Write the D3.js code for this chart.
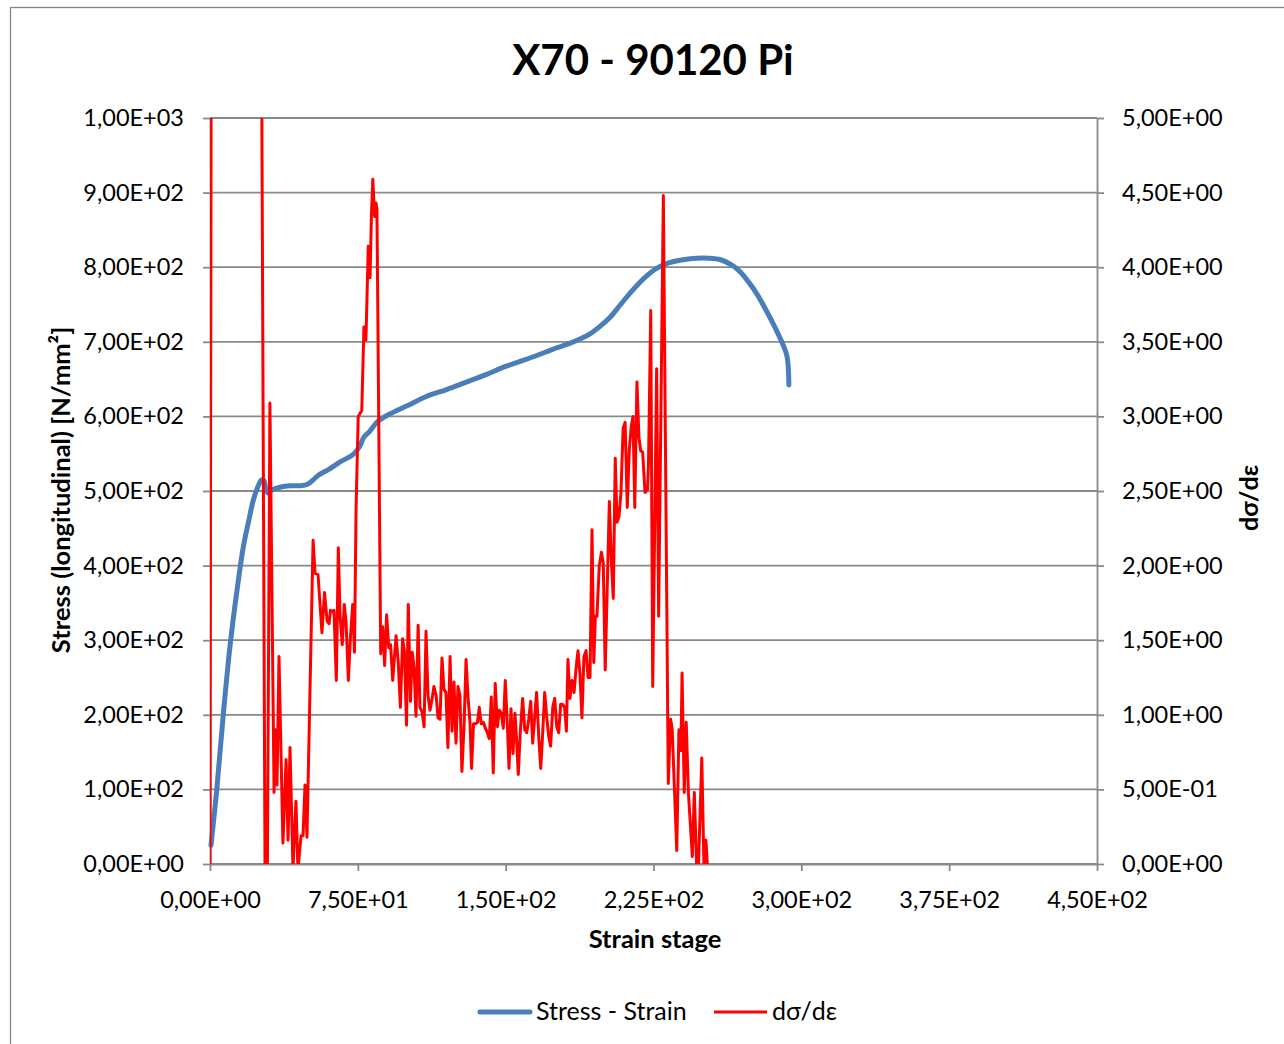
<!DOCTYPE html>
<html>
<head>
<meta charset="utf-8">
<script src="https://cdn.jsdelivr.net/npm/d3@7"></script>
<style>
  html, body { margin: 0; padding: 0; background: #fff; }
  svg { display: block; }
  text { font-family: Lato, "Open Sans", sans-serif; fill: #000; }
</style>
</head>
<body>
<script>
// ---------------- DATA ----------------
const chartTitle = "X70 - 90120 Pi";
const xTitle = "Strain stage";
const yLeftTitle = "Stress (longitudinal) [N/mm²]";
const yRightTitle = "dσ/dε";
const seriesNames = ["Stress - Strain", "dσ/dε"];

const strainTicks = [0, 75, 150, 225, 300, 375, 450];
const stressTicks = [0, 100, 200, 300, 400, 500, 600, 700, 800, 900, 1000];
const slopeTicks = [0, 0.5, 1, 1.5, 2, 2.5, 3, 3.5, 4, 4.5, 5];

// Stress - Strain curve (left axis)
const stressStrain = [0.5, 3.4, 6.8, 10.1, 13.5, 16.9, 19.4, 22, 24.5, 26.2, 27.4, 28.4, 29.6, 31.3, 35.5, 40.6, 45.7, 49.5, 52.4, 55, 60.9, 66, 72.7, 76, 78, 81, 85, 91, 100.6, 110, 120, 130, 140, 150, 160, 170, 176, 182.5, 188, 193, 198, 203, 208, 214, 221, 227, 233, 240, 247, 253, 259, 264, 268.5, 273, 277.5, 282, 286.7, 290.2, 292.7, 293.7];
const stressValues = [25, 99, 202, 291, 363, 425, 457, 488, 507, 515, 514, 501, 497, 501, 505, 507, 507, 509, 515, 521, 530, 539, 549, 560, 572, 580, 593, 603, 615, 627, 636, 646, 656, 667, 676, 686, 692, 698, 704, 711, 721, 733, 749, 768, 787, 799, 806, 810, 812, 812, 810, 804, 795, 781, 764, 743, 719, 699, 681, 642];

// dσ/dε curve (right axis)
const slopeStrain = [0, 1, 26, 28, 29, 30.4, 32.5, 33.5, 34, 35, 37, 38.6, 39.6, 40.6, 42.1, 43.6, 44.6, 46.2, 47.2, 48.2, 49.2, 52.3, 53.3, 54.8, 56.8, 58.1, 59.4, 60.4, 61.1, 62.4, 62.9, 64.1, 65.1, 66, 67.1, 68.1, 69, 70.2, 71.2, 72.4, 73.3, 74.1, 75.2, 77, 78.1, 79.1, 80.3, 81.2, 81.9, 82.6, 83.5, 84.2, 84.7, 86.6, 87.6, 88.6, 89.6, 90.7, 91.6, 92.7, 94.4, 95.5, 96.6, 97.7, 98.6, 99.7, 100.6, 101.7, 102.6, 103.5, 104.5, 105.6, 106.5, 107.6, 108.6, 109.6, 110.6, 111.6, 112.6, 113.6, 114.7, 115.7, 116.7, 117.7, 118.7, 119.7, 120.7, 121.8, 122.8, 123.8, 124.8, 125.8, 126.8, 127.8, 128.9, 129.9, 130.9, 131.9, 132.7, 133.7, 134.7, 135.7, 136.6, 137.6, 138.7, 139.7, 140.7, 141.7, 142.7, 143.7, 144.7, 145.8, 146.8, 147.8, 148.8, 149.8, 150.9, 151.7, 152.7, 153.7, 154.7, 155.5, 156.4, 157.4, 158.6, 159.7, 160.7, 161.7, 162.7, 163.7, 164.7, 165.7, 166.8, 167.8, 168.8, 169.8, 170.8, 171.8, 172.8, 173.9, 174.9, 175.9, 176.9, 177.9, 178.9, 179.9, 180.8, 181.6, 182.6, 183.7, 184.7, 185.7, 186.7, 187.7, 188.7, 189.7, 190.8, 191.8, 192.8, 193.8, 194.7, 195.5, 196.3, 197.5, 198.6, 199.5, 200.5, 202.6, 203.6, 204.6, 205.6, 206.5, 207.5, 208.5, 209.6, 210.6, 211.7, 212.7, 213.7, 214.6, 215.5, 216.6, 217.6, 218.5, 219.5, 220.7, 222, 222.5, 223.6, 224.6, 226.6, 227.6, 230, 232.5, 233.7, 234.5, 236.8, 237.9, 238.9, 239.5, 240.6, 241.6, 242.7, 244.7, 245.7, 246.9, 247.8, 249.5, 250.6, 251.6, 252.4];
const slopeValues = [0, 9, 6, -0.3, -0.3, 3.09, 0.48, 0.90, 0.53, 1.39, 0.14, 0.70, 0.16, 0.78, -0.03, 0.42, -0.04, 0.19, 0.19, 0.53, 0.18, 2.17, 1.95, 1.94, 1.55, 1.82, 1.63, 1.61, 1.70, 1.69, 1.70, 1.23, 2.12, 1.66, 1.47, 1.74, 1.63, 1.23, 1.51, 1.74, 1.42, 2.38, 3.00, 3.04, 3.60, 3.51, 4.14, 3.93, 4.35, 4.59, 4.34, 4.43, 4.39, 1.41, 1.59, 1.33, 1.67, 1.45, 1.47, 1.23, 1.53, 1.35, 1.05, 1.51, 1.43, 0.93, 1.74, 1.09, 1.42, 1.32, 0.99, 1.60, 1.05, 1.02, 0.92, 1.56, 1.13, 1.03, 1.10, 1.19, 1.13, 0.98, 0.97, 1.38, 1.17, 1.15, 0.78, 1.39, 0.89, 1.22, 0.81, 1.19, 1.13, 0.62, 0.93, 1.37, 1.12, 0.95, 0.64, 0.94, 0.94, 0.95, 1.05, 0.94, 0.95, 0.91, 0.88, 0.84, 1.12, 0.61, 1.21, 0.92, 1.03, 1.01, 0.91, 1.23, 0.92, 0.64, 1.04, 0.74, 1.01, 0.84, 0.60, 0.88, 1.11, 0.90, 0.88, 0.97, 1.09, 0.81, 0.98, 1.15, 0.85, 0.64, 0.88, 1.15, 0.99, 0.86, 0.79, 1.05, 1.11, 0.92, 0.88, 1.07, 1.07, 1.05, 0.89, 1.37, 1.11, 1.23, 1.15, 1.31, 1.43, 1.27, 0.98, 1.39, 1.43, 1.25, 1.25, 2.24, 1.35, 1.66, 1.66, 2.00, 2.09, 2.02, 1.30, 2.43, 2.04, 1.78, 2.72, 2.29, 2.33, 2.49, 2.92, 2.96, 2.39, 2.77, 2.93, 3.00, 2.39, 3.23, 2.86, 2.77, 2.76, 2.49, 2.51, 2.71, 3.71, 1.19, 3.32, 1.66, 4.48, 0.54, 0.97, 0.90, 0.09, 0.90, 0.76, 1.28, 0.48, 0.95, 0.48, 0.05, 0.48, -0.02, -0.02, 0.71, -0.02, 0.16, -0.02];

// ---------------- CHART ----------------
const W = 1284, H = 1044;
const plot = { left: 210, right: 1097, top: 118, bottom: 864 };
const gridColor = "#898989";
const blue = "#4A7EBB", red = "#FF0000";

const fmt = v => {
  const [m, e] = v.toExponential(2).split("e");
  const n = +e;
  return m.replace(".", ",") + "E" + (n < 0 ? "-" : "+") + String(Math.abs(n)).padStart(2, "0");
};

const x = d3.scaleLinear().domain([0, 450]).range([plot.left, plot.right]);
const yL = d3.scaleLinear().domain([0, 1000]).range([plot.bottom, plot.top]);
const yR = d3.scaleLinear().domain([0, 5]).range([plot.bottom, plot.top]);

const svg = d3.select("body").append("svg").attr("width", W).attr("height", H);
svg.append("rect").attr("width", W).attr("height", H).attr("fill", "#fff");

// chart frame
svg.append("rect").attr("x", 10.5).attr("y", 7.5).attr("width", W + 20).attr("height", H + 20)
  .attr("fill", "none").attr("stroke", "#868686").attr("stroke-width", 1.3);

// clip
svg.append("clipPath").attr("id", "clip").append("rect")
  .attr("x", plot.left).attr("y", plot.top)
  .attr("width", plot.right - plot.left).attr("height", plot.bottom - plot.top);

// gridlines
svg.append("g").selectAll("line").data(stressTicks).join("line")
  .attr("x1", plot.left).attr("x2", plot.right)
  .attr("y1", d => yL(d)).attr("y2", d => yL(d))
  .attr("stroke", gridColor).attr("stroke-width", 1.8);

function styleAxis(g) {
  g.select(".domain").attr("stroke", gridColor).attr("stroke-width", 1.8);
  g.selectAll(".tick line").attr("stroke", gridColor).attr("stroke-width", 1.8);
  g.selectAll(".tick text").attr("font-family", "Lato, sans-serif").attr("font-size", 23.5).attr("fill", "#000");
}

// left axis
svg.append("g").attr("transform", `translate(${plot.left},0)`)
  .call(d3.axisLeft(yL).tickValues(stressTicks).tickFormat(fmt).tickSize(7).tickSizeOuter(0).tickPadding(19))
  .call(styleAxis);

// right axis
svg.append("g").attr("transform", `translate(${plot.right},0)`)
  .call(d3.axisRight(yR).tickValues(slopeTicks).tickFormat(fmt).tickSize(7).tickSizeOuter(0).tickPadding(18))
  .call(styleAxis);

// bottom axis
svg.append("g").attr("transform", `translate(0,${plot.bottom})`)
  .call(d3.axisBottom(x).tickValues(strainTicks).tickFormat(fmt).tickSize(7).tickSizeOuter(0).tickPadding(20))
  .call(styleAxis);

// series
const blueLine = d3.line().x(d => x(d[0])).y(d => yL(d[1])).curve(d3.curveCatmullRom.alpha(0.5));
svg.append("path")
  .datum(stressStrain.map((s, i) => [s, stressValues[i]]))
  .attr("d", blueLine).attr("fill", "none").attr("stroke", blue)
  .attr("stroke-width", 5).attr("stroke-linejoin", "round").attr("stroke-linecap", "round");

const redLine = d3.line().x(d => x(d[0])).y(d => yR(d[1]));
svg.append("path")
  .datum(slopeStrain.map((s, i) => [s, slopeValues[i]]))
  .attr("clip-path", "url(#clip)")
  .attr("d", redLine).attr("fill", "none").attr("stroke", red)
  .attr("stroke-width", 3).attr("stroke-linejoin", "round");

// titles
svg.append("text").attr("x", 653).attr("y", 75).attr("text-anchor", "middle")
  .attr("font-size", 42).attr("font-weight", "bold").text(chartTitle);

svg.append("text").attr("x", 655).attr("y", 948).attr("text-anchor", "middle")
  .attr("font-size", 25.5).attr("font-weight", "bold").text(xTitle);

svg.append("text").attr("transform", "translate(70,490) rotate(-90)").attr("text-anchor", "middle")
  .attr("font-size", 25.5).attr("font-weight", "bold").text(yLeftTitle);

svg.append("text").attr("transform", "translate(1258,498) rotate(-90)").attr("text-anchor", "middle")
  .attr("font-size", 25).attr("font-weight", "bold").text(yRightTitle);

// legend
const leg = svg.append("g");
leg.append("line").attr("x1", 480).attr("x2", 530).attr("y1", 1012).attr("y2", 1012)
  .attr("stroke", blue).attr("stroke-width", 5).attr("stroke-linecap", "round");
leg.append("text").attr("x", 536).attr("y", 1020).attr("font-size", 25).text(seriesNames[0]);
leg.append("line").attr("x1", 714).attr("x2", 767).attr("y1", 1012).attr("y2", 1012)
  .attr("stroke", red).attr("stroke-width", 3);
leg.append("text").attr("x", 772).attr("y", 1020).attr("font-size", 25).text(seriesNames[1]);
</script>
</body>
</html>
